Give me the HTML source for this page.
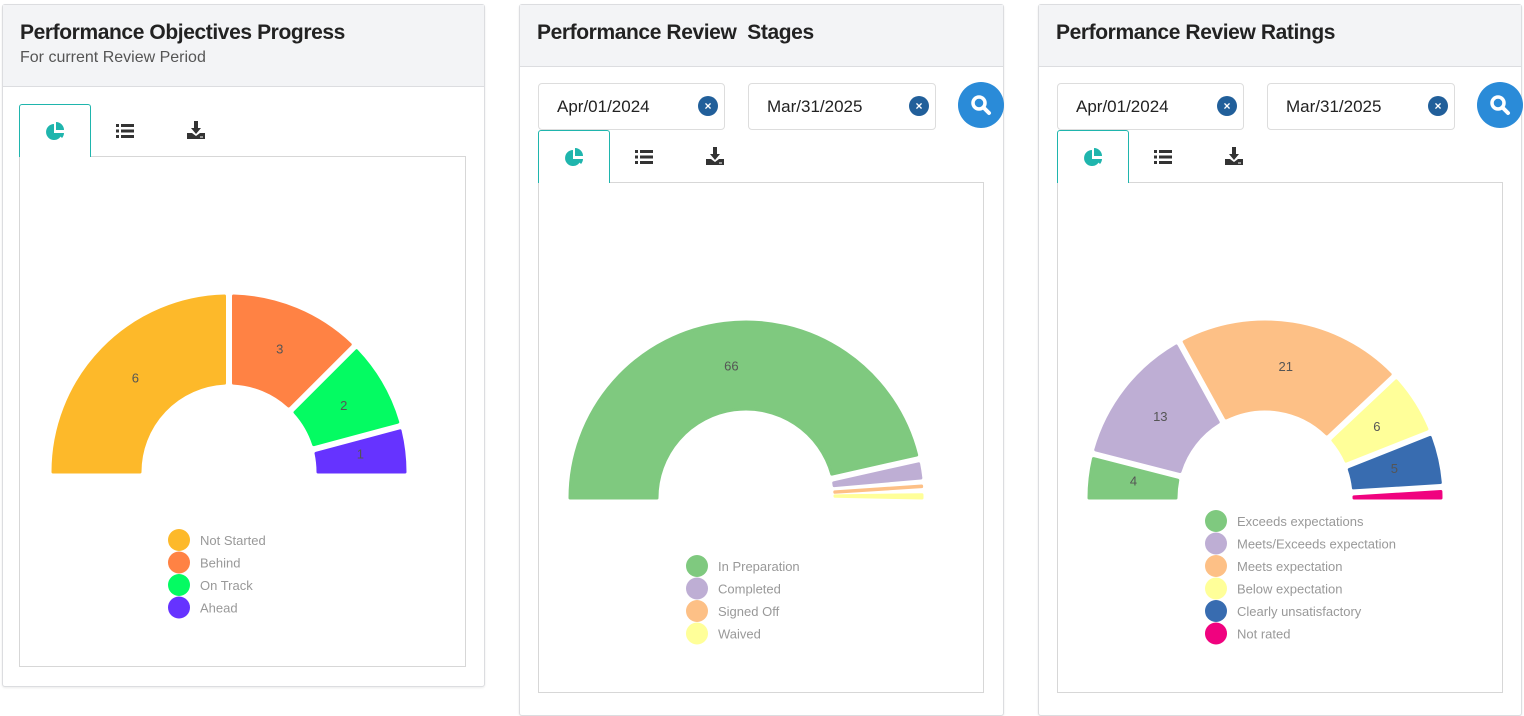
<!DOCTYPE html>
<html><head><meta charset="utf-8">
<style>
body{margin:0;width:1524px;height:706px;background:#fff;position:relative;overflow:hidden;font-family:"Liberation Sans",sans-serif}
.panel{position:absolute;background:#fff;border:1px solid #dcdde0;border-radius:3px;box-shadow:0 1px 2px rgba(0,0,0,.08)}
.hdr{position:absolute;left:0;right:0;top:0;background:#f3f4f6;border-bottom:1px solid #dcdde0}
.title{position:absolute;left:17px;top:16px;font-size:21px;font-weight:bold;color:#222;letter-spacing:-0.4px}
.sub{position:absolute;left:17px;top:44px;font-size:16px;color:#555}
.tab{position:absolute;height:53px;width:72px;box-sizing:border-box}
.tab.act{border:1px solid #1fb5ad;border-bottom:none;border-radius:3px 3px 0 0;background:#fff;z-index:2}
.box{position:absolute;border:1px solid #d7d7d7;box-sizing:border-box}
.inp{position:absolute;height:47px;border:1px solid #ddd;border-radius:4px;box-sizing:border-box;font-size:17px;color:#222;padding:13px 0 0 18px}
.clr{position:absolute;right:6px;top:12px;width:20px;height:20px;border-radius:50%;background:#215f9a;color:#fff;font-size:12px;text-align:center;line-height:20px;font-weight:bold}
.srch{position:absolute;width:46px;height:46px;border-radius:50%;background:#2a8bd8}
svg.chart{position:absolute;left:0;top:0}
</style></head><body>
<svg width="0" height="0" style="position:absolute"><defs>
<symbol id="pie" viewBox="0 0 20 20"><path d="M9 2A8 8 0 1 0 17 11H9Z" fill="currentColor"/><path d="M11 0A8 8 0 0 1 19 8H11Z" fill="currentColor"/><path d="M12 11H19A8 8 0 0 1 17 16Z" fill="currentColor"/></symbol>
<symbol id="list" viewBox="0 0 20 20"><rect x="1" y="3" width="3" height="3" fill="currentColor"/><rect x="6" y="3" width="13" height="3" fill="currentColor"/><rect x="1" y="8.5" width="3" height="3" fill="currentColor"/><rect x="6" y="8.5" width="13" height="3" fill="currentColor"/><rect x="1" y="14" width="3" height="3" fill="currentColor"/><rect x="6" y="14" width="13" height="3" fill="currentColor"/></symbol>
<symbol id="dl" viewBox="0 0 20 20"><path d="M8 1h4v7h3l-5 6-5-6h3z" fill="currentColor"/><path d="M1 13h5l4 3 4-3h5v6H1z" fill="currentColor"/><rect x="14" y="16.5" width="3" height="1" fill="#fff"/></symbol>
</defs></svg>

<div class="panel" style="left:2px;top:4px;width:481px;height:681px">
 <div class="hdr" style="height:81px">
  <div class="title">Performance Objectives Progress</div>
  <div class="sub">For current Review Period</div>
 </div>
</div>
<div class="panel" style="left:519px;top:4px;width:483px;height:710px">
 <div class="hdr" style="height:61px"><div class="title">Performance Review&nbsp; Stages</div></div>
</div>
<div class="panel" style="left:1038px;top:4px;width:482px;height:710px">
 <div class="hdr" style="height:61px"><div class="title">Performance Review Ratings</div></div>
</div>

<div id="ui"></div>
<svg class="chart" id="charts" width="1524" height="706" style="z-index:5"></svg>

<script>
// ---- data ----
const cat1=["Not Started","Behind","On Track","Ahead"];
const val1=[6,3,2,1];
const col1=["#fdb92a","#ff8244","#04fb62","#6633ff"];
const cat2=["In Preparation","Completed","Signed Off","Waived"];
const val2=[66,3,1,1];
const col2=["#7fc97f","#beaed4","#fdc086","#ffff99"];
const cat3=["Exceeds expectations","Meets/Exceeds expectation","Meets expectation","Below expectation","Clearly unsatisfactory","Not rated"];
const val3=[4,13,21,6,5,1];
const col3=["#7fc97f","#beaed4","#fdc086","#ffff99","#386cb0","#f0027f"];
const lbl3=["4","13","21","6","5",""];

const ui=document.getElementById('ui');
function add(html){ui.insertAdjacentHTML('beforeend',html);}
function tabs(x,y,p){
 add(`<div class="tab act" style="left:${x}px;top:${y}px"><svg style="position:absolute;left:25px;top:17px;color:#1fb5ad" width="20" height="20"><use href="#pie"/></svg></div>`);
 add(`<div class="tab" style="left:${x+72}px;top:${y}px"><svg style="position:absolute;left:24px;top:17px;color:#333" width="20" height="20"><use href="#list"/></svg></div>`);
 add(`<div class="tab" style="left:${x+142}px;top:${y}px"><svg style="position:absolute;left:25px;top:16px;color:#333" width="20" height="20"><use href="#dl"/></svg></div>`);
}
function dates(x,p){
 add(`<div class="inp" style="left:${x}px;top:83px;width:187px">Apr/01/2024<div class="clr">×</div></div>`);
 add(`<div class="inp" style="left:${x+210}px;top:83px;width:188px">Mar/31/2025<div class="clr">×</div></div>`);
 add(`<div class="srch" style="left:${x+420}px;top:82px"><svg width="46" height="46"><circle cx="21" cy="21" r="6" fill="none" stroke="#fff" stroke-width="3.5"/><line x1="25.5" y1="25.5" x2="31" y2="31" stroke="#fff" stroke-width="4" stroke-linecap="round"/></svg></div>`);
}
tabs(19,104,'objectives');
add(`<div class="box" style="left:19px;top:156px;width:447px;height:511px"></div>`);
dates(538,'stages');tabs(538,130,'stages');
add(`<div class="box" style="left:538px;top:182px;width:446px;height:511px"></div>`);
dates(1057,'ratings');tabs(1057,130,'ratings');
add(`<div class="box" style="left:1057px;top:182px;width:446px;height:511px"></div>`);

const NS='http://www.w3.org/2000/svg';
const svg=document.getElementById('charts');
function el(t,a){const e=document.createElementNS(NS,t);for(const k in a)e.setAttribute(k,a[k]);return e;}
function pol(cx,cy,r,a){return [cx+r*Math.cos(a),cy-r*Math.sin(a)];}
function gauge(p,cx,cy,vals,cols,cats,lbls,legX,legY){
 const ro=176,ri=89,d=4.5,tot=vals.reduce((s,v)=>s+v,0);
 let a0=Math.PI;
 vals.forEach((v,i)=>{
  const a1=a0-v/tot*Math.PI, am=(a0+a1)/2;
  const first=i===0,last=i===vals.length-1;
  function edges(r){
   const da=Math.asin(d/r);
   let s=first?a0:a0-da, e=last?a1:a1+da;
   if(s-e<0.004){s=am+0.002;e=am-0.002;}
   return [s,e];
  }
  const [so,eo]=edges(ro),[si,ei]=edges(ri);
  const p1=pol(cx,cy,ro,so),p2=pol(cx,cy,ro,eo),p3=pol(cx,cy,ri,ei),p4=pol(cx,cy,ri,si);
  const path=el('path',{d:`M${p1}A${ro},${ro} 0 0 1 ${p2}L${p3}A${ri},${ri} 0 0 0 ${p4}Z`,fill:cols[i],stroke:cols[i],'stroke-width':3,'stroke-linejoin':'round'});
  
  
  svg.appendChild(path);
  const lt=lbls?lbls[i]:String(v);
  if(lt && (a0-a1)>0.15){
   const lp=pol(cx,cy,(ro+ri)/2,am);
   const t=el('text',{x:lp[0],y:lp[1]+4,'text-anchor':'middle','font-size':13,fill:'#555','font-family':'Liberation Sans, sans-serif'});
   t.textContent=lt;
   
   
   svg.appendChild(t);
  }
  a0=a1;
 });
 cats.forEach((c,i)=>{
  const y=legY+i*22.5;
  const cc=el('circle',{cx:legX,cy:y,r:11,fill:cols[i]});
  
  
  svg.appendChild(cc);
  const t=el('text',{x:legX+21,y:y+5,'font-size':13,fill:'#999','font-family':'Liberation Sans, sans-serif'});
  t.textContent=c;
  
  
  svg.appendChild(t);
 });
}
gauge('objectives',229,472,val1,col1,cat1,null,179,540);
gauge('stages',746,498,val2,col2,cat2,["66","","",""],697,566);
gauge('ratings',1265,498,val3,col3,cat3,lbl3,1216,521);
</script>
</body></html>
